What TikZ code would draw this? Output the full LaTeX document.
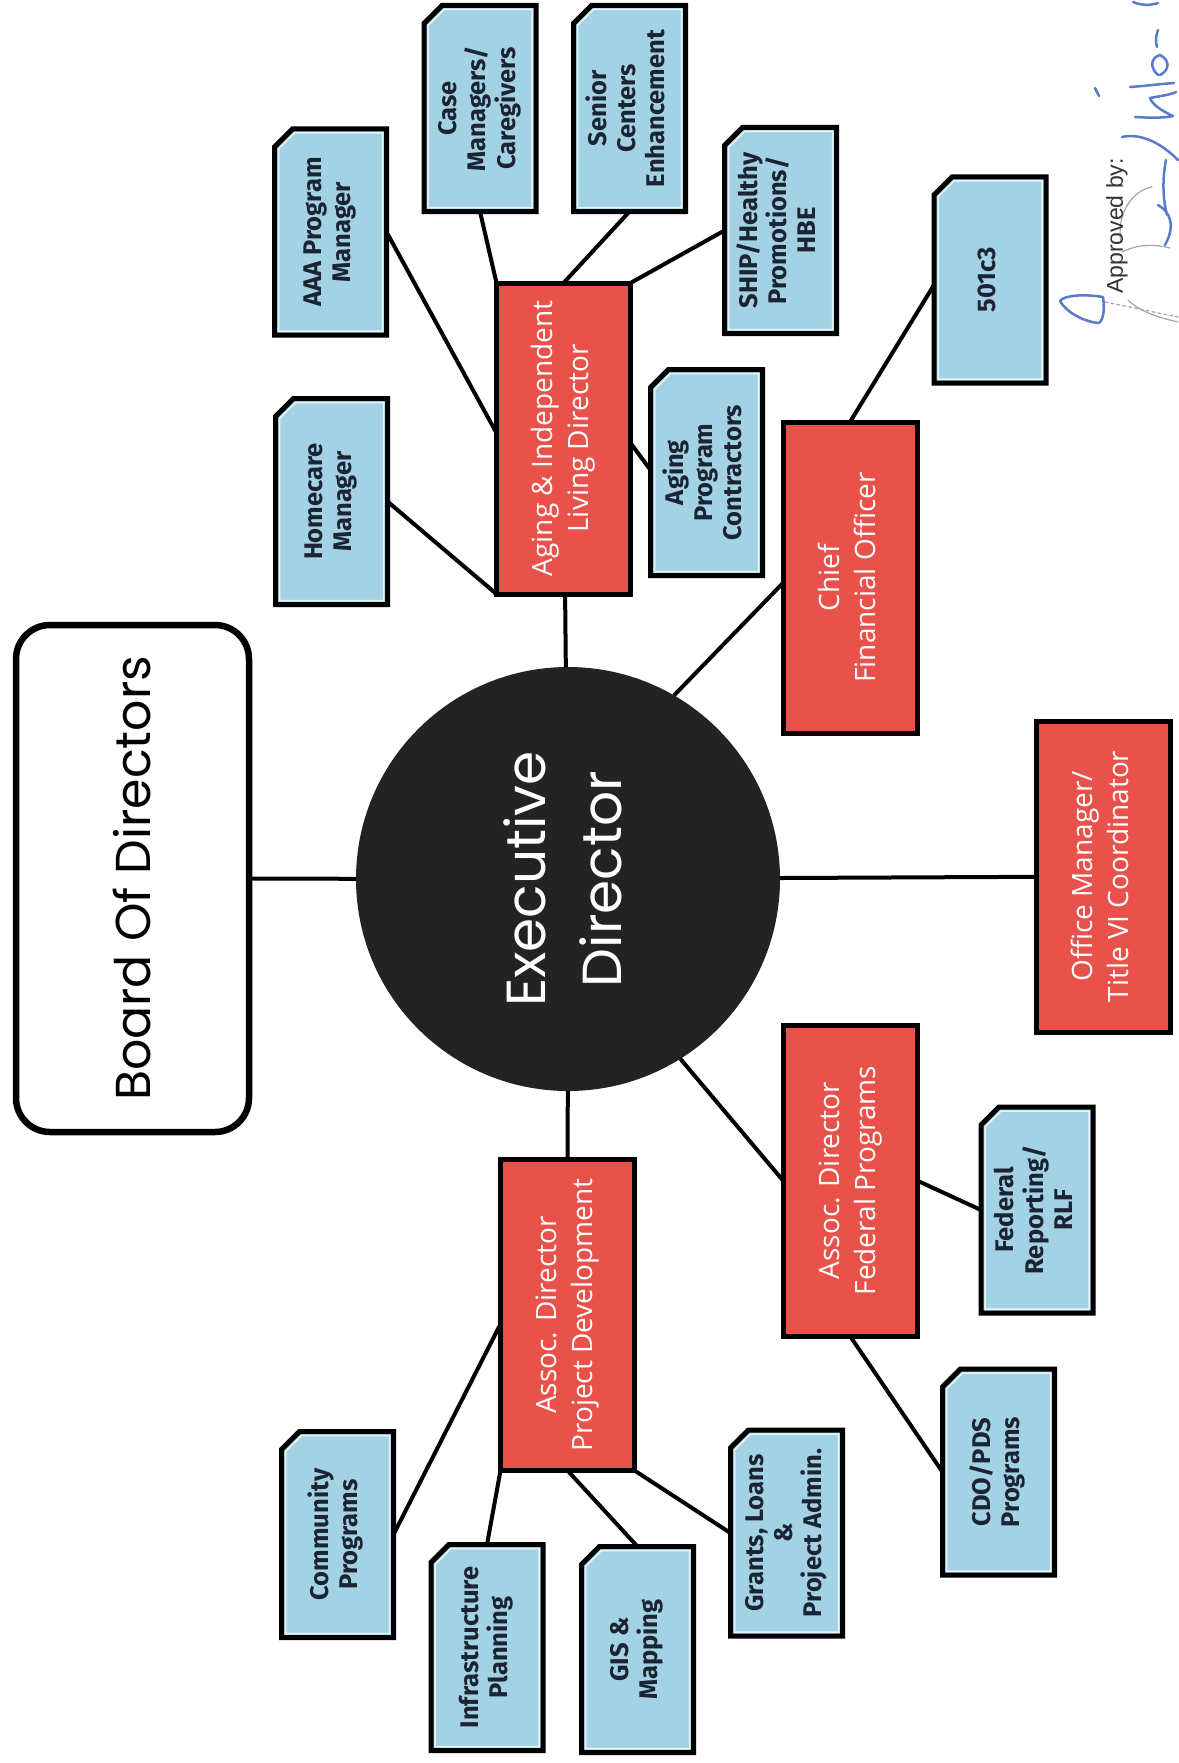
\documentclass[tikz,border=0pt]{standalone}
\usepackage{fontspec}
\usetikzlibrary{calc,backgrounds}
\newfontfamily\redfont{Open Sans}
\newfontfamily\bluefont{Fira Sans}
\newfontfamily\boardfont{Poppins}
\newfontfamily\sigfont{Liberation Sans}
\definecolor{boxblue}{HTML}{A3D2E4}
\definecolor{boxred}{HTML}{E8524A}
\definecolor{edblack}{HTML}{232323}
\definecolor{bluetext}{HTML}{1C2433}
\definecolor{inkblue}{HTML}{5A7BC9}
\newcommand{\rtext}[1]{\rotatebox{90}{\begin{tabular}{@{}c@{}}#1\end{tabular}}}
\begin{document}
\begin{tikzpicture}[x=1pt,y=-1pt,
  redbox/.style={draw=black, line width=5pt, fill=boxred, minimum width=134pt, minimum height=311pt, inner sep=0pt, outer sep=0pt, text=white, font={\redfont\fontsize{28}{36}\selectfont}},
  bluebox/.style={minimum width=112pt, minimum height=206pt, inner sep=0pt, outer sep=0pt, text=bluetext, font={\bluefont\bfseries\fontsize{25.5}{29}\selectfont}},
  chamf/.style={draw=black, line width=5pt, fill=boxblue, line join=miter},
  chamfin/.style={draw=white!75!boxblue, line width=1.5pt, line join=miter},
  link/.style={line width=4pt, draw=black},
  ink/.style={draw=inkblue, line width=2.5pt, line cap=round, line join=round},
  pencil/.style={draw=black!35, line width=1.2pt, line cap=round}]
\useasboundingbox (0,0) rectangle (1178,1763);

% board and executive director
\node[draw=black, line width=6.5pt, rounded corners=34pt, fill=white, minimum width=233pt, minimum height=507pt, inner sep=0pt, outer sep=0pt, font={\boardfont\fontsize{49}{60}\selectfont}] (board) at (132.5,878.5) {\rotatebox{90}{Board Of Directors}};
\node[circle, fill=edblack, minimum size=424pt, inner sep=0pt, outer sep=0pt, text=white, font={\boardfont\fontsize{55}{76}\selectfont}] (ed) at (568,879) {\rtext{Executive\\Director}};

% red boxes
\node[redbox] (aging) at (563.5,438.5) {\rtext{Aging \& Independent\\Living Director}};
\node[redbox] (cfo) at (850,577.5) {\rtext{Chief\\Financial Officer}};
\node[redbox] (office) at (1103,876.5) {\rtext{Office Manager/\\Title VI Coordinator}};
\node[redbox] (fed) at (850,1180.5) {\rtext{Assoc. Director\\Federal Programs}};
\node[redbox] (pd) at (567.5,1315) {\rtext{Assoc. Director\\Project Development}};

% blue boxes
\node[bluebox] (homecare) at (331.5,501.5) {\rtext{Homecare\\Manager}};
\node[bluebox] (aaa) at (330.5,232) {\rtext{AAA Program\\Manager}};
\node[bluebox] (case) at (480,108.5) {\rtext{Case\\Managers/\\Caregivers}};
\node[bluebox] (senior) at (629.5,108.5) {\rtext{Senior\\Centers\\Enhancement}};
\node[bluebox] (ship) at (780.5,230.5) {\rtext{SHIP/Healthy\\Promotions/\\HBE}};
\node[bluebox] (apc) at (706.5,472.5) {\rtext{Aging\\Program\\Contractors}};
\node[bluebox] (c501) at (990,280) {\rtext{501c3}};
\node[bluebox] (fedrep) at (1037,1210) {\rtext{Federal\\Reporting/\\RLF}};
\node[bluebox] (cdo) at (998.5,1472) {\rtext{CDO/PDS\\Programs}};
\node[bluebox] (community) at (337.5,1534.5) {\rtext{Community\\Programs}};
\node[bluebox] (infra) at (487,1647.5) {\rtext{Infrastructure\\Planning}};
\node[bluebox] (gis) at (637.5,1649.5) {\rtext{GIS \&\\Mapping}};
\node[bluebox] (grants) at (786.5,1533) {\rtext{Grants, Loans\\\&\\Project Admin.}};

\begin{scope}[on background layer]
\fill[white] (0,0) rectangle (1178,1763);
\foreach \n in {homecare,aaa,case,senior,ship,apc,c501,fedrep,cdo,community,infra,gis,grants}{
  \draw[chamf] ([yshift=-18pt]\n.north west) -- ([xshift=18pt]\n.north west) -- (\n.north east) -- (\n.south east) -- (\n.south west) -- cycle;
  \draw[chamfin] ([xshift=4pt,yshift=-20pt]\n.north west) -- ([xshift=20pt,yshift=-4pt]\n.north west) -- ([xshift=-4pt,yshift=-4pt]\n.north east) -- ([xshift=-4pt,yshift=4pt]\n.south east) -- ([xshift=4pt,yshift=4pt]\n.south west) -- cycle;
}
\end{scope}

% connectors
\draw[link] (board) -- (ed);
\draw[link] (ed) -- (aging);
\draw[link] (ed.60) -- ([yshift=-5.5pt]cfo.west);
\draw[link] (ed) -- (office);
\draw[link] (ed.-58) -- (fed.west);
\draw[link] (ed) -- (pd);
\draw[link] (homecare.east) -- (aging.south west);
\draw[link] (aaa.east) -- ([yshift=5.5pt]aging.west);
\draw[link] (case.south) -- (aging.north west);
\draw[link] (senior.south) -- (aging.north);
\draw[link] (ship.west) -- (aging.north east);
\draw[link] ([yshift=-4.5pt]aging.east) -- ([yshift=2.5pt]apc.west);
\draw[link] (cfo.north) -- ([yshift=-5pt]c501.west);
\draw[link] (fed.east) -- (fedrep.west);
\draw[link] (fed.south) -- (cdo.west);
\draw[link] ([yshift=-9pt]pd.west) -- (community.east);
\draw[link] (pd.south west) -- (infra.north);
\draw[link] (pd.south) -- (gis.north);
\draw[link] (pd.south east) -- (grants.west);

% approval
\draw[pencil, dashed] (1105,302) -- (1178,317);
\draw[pencil] (1122,252) .. controls (1138,244) and (1155,244) .. (1170,248);
\draw[pencil] (1121,242) .. controls (1116,215) and (1132,190) .. (1152,187);
\draw[pencil] (1128,300) .. controls (1140,312) and (1160,318) .. (1178,322);
\node[font={\sigfont\fontsize{23}{28}\selectfont}, text=black!80, inner sep=0pt] (appr) at (1117,226) {\rotatebox{90}{Approved by:}};
\draw[ink] (1103,297) .. controls (1085,294) and (1064,295) .. (1060,301) .. controls (1066,312) and (1084,322) .. (1099,323) .. controls (1105,318) and (1104,305) .. (1103,297);
\draw[ink] (1122,137) .. controls (1140,133) and (1160,142) .. (1178,160);
\draw[ink] (1166,160) .. controls (1162,180) and (1163,200) .. (1167,215);
\draw[ink] (1158,205) .. controls (1170,212) and (1176,225) .. (1165,245);
\draw[ink] (1135,117) .. controls (1150,118) and (1165,118) .. (1173,116) .. controls (1160,110) and (1152,104) .. (1150,98) .. controls (1160,96) and (1170,95) .. (1176,92);
\draw[ink] (1130,87) .. controls (1145,86) and (1160,84) .. (1174,83);
\draw[ink] (1158,75) .. controls (1150,68) and (1150,58) .. (1160,55) .. controls (1170,60) and (1170,70) .. (1160,75);
\draw[ink] (1157,47) .. controls (1155,40) and (1156,36) .. (1158,30);
\draw[ink] (1133,2) .. controls (1140,5) and (1150,6) .. (1158,3);
\draw[ink] (1095,88) -- (1099,96);
\end{tikzpicture}
\end{document}
